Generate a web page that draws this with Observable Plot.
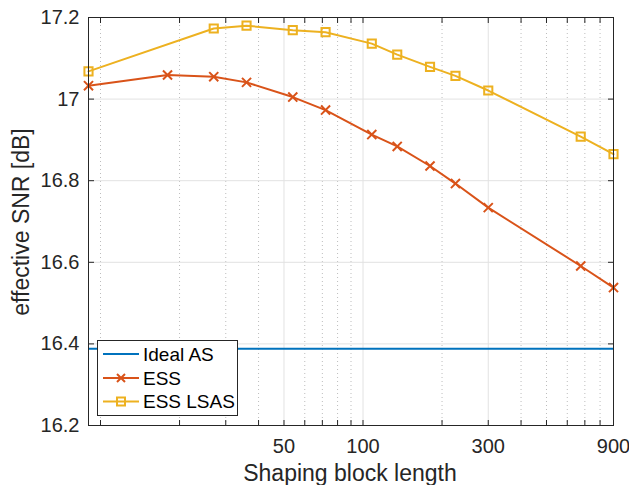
<!DOCTYPE html>
<html>
<head>
<meta charset="utf-8">
<script src="https://cdn.jsdelivr.net/npm/d3@7"></script>
<script src="https://cdn.jsdelivr.net/npm/@observablehq/plot@0.6"></script>
<style>
  html, body { margin: 0; padding: 0; background: #fff; }
  #chart { width: 629px; height: 485px; }
</style>
</head>
<body>
<div id="chart"></div>
<script>
// ---- data ----
const essLen = [9, 18, 27, 36, 54, 72, 108, 135, 180, 225, 300, 675, 900];
const essSNR = [17.033, 17.059, 17.055, 17.041, 17.005, 16.973, 16.913, 16.884, 16.836, 16.793, 16.734, 16.591, 16.538];
const lsasLen = [9, 27, 36, 54, 72, 108, 135, 180, 225, 300, 675, 900];
const lsasSNR = [17.068, 17.173, 17.180, 17.169, 17.164, 17.136, 17.109, 17.079, 17.057, 17.021, 16.908, 16.865];
const idealSNR = [16.388];
const xDomain = [9, 900];
const yDomain = [16.2, 17.2];
const xMajorTicks = [50, 100, 300, 900];
const xMinorTicks = [10, 20, 30, 40, 60, 70, 80, 90, 200, 400, 500, 600, 700, 800];
const yTicks = [16.2, 16.4, 16.6, 16.8, 17, 17.2];
const seriesNames = ["Ideal AS", "ESS", "ESS LSAS"];
const seriesColors = ["#0072BD", "#D95319", "#EDB120"];
const xLabel = "Shaping block length";
const yLabel = "effective SNR [dB]";

const ess = essLen.map((x, i) => ({x, y: essSNR[i]}));
const lsas = lsasLen.map((x, i) => ({x, y: lsasSNR[i]}));
const allXTicks = xMajorTicks.concat(xMinorTicks);

const axisColor = "#262626";
const font = "'Liberation Sans', Arial, Helvetica, sans-serif";

const svg = Plot.plot({
  width: 629,
  height: 485,
  marginLeft: 88,
  marginRight: 16,
  marginTop: 17,
  marginBottom: 60,
  style: {fontFamily: font, color: axisColor, background: "#fff", overflow: "visible"},
  x: {type: "log", domain: xDomain},
  y: {domain: yDomain},
  marks: [
    Plot.gridX(xMinorTicks, {stroke: "#bdbdbd", strokeOpacity: 1, strokeDasharray: "1,3"}),
    Plot.gridX(xMajorTicks, {stroke: "#e2e2e2", strokeOpacity: 1}),
    Plot.gridY(yTicks, {stroke: "#e2e2e2", strokeOpacity: 1}),
    // tick marks (inward) on all four sides
    Plot.axisX(allXTicks, {anchor: "bottom", tickSize: -5, tickFormat: () => "", stroke: axisColor, label: null}),
    Plot.axisX(allXTicks, {anchor: "top", tickSize: -5, tickFormat: () => "", stroke: axisColor, label: null}),
    Plot.axisY(yTicks, {anchor: "left", tickSize: -6, tickFormat: () => "", stroke: axisColor, label: null}),
    Plot.axisY(yTicks, {anchor: "right", tickSize: -6, tickFormat: () => "", stroke: axisColor, label: null}),
    // tick labels
    Plot.text(xMajorTicks, {x: d => d, frameAnchor: "bottom", lineAnchor: "top", dy: 13, fontSize: 20, fill: axisColor, text: d => String(d)}),
    Plot.axisY(yTicks, {anchor: "left", tickSize: 0, tickPadding: 9, fontSize: 20, fill: axisColor, label: null, tickFormat: d3.format("~g")}),
    // data
    Plot.ruleY(idealSNR, {stroke: seriesColors[0], strokeWidth: 2}),
    Plot.line(ess, {x: "x", y: "y", stroke: seriesColors[1], strokeWidth: 2}),
    Plot.dot(ess, {x: "x", y: "y", symbol: "times", r: 4.2, stroke: seriesColors[1], strokeWidth: 2}),
    Plot.line(lsas, {x: "x", y: "y", stroke: seriesColors[2], strokeWidth: 2}),
    Plot.dot(lsas, {x: "x", y: "y", symbol: "square", r: 4.6, stroke: seriesColors[2], fill: "none", strokeWidth: 2}),
    Plot.frame({stroke: axisColor, strokeWidth: 1})
  ]
});

const s = d3.select(svg);
// axis labels
s.append("text")
  .attr("x", 350).attr("y", 481)
  .attr("text-anchor", "middle")
  .attr("font-size", 23).attr("font-family", font).attr("fill", axisColor)
  .text(xLabel);
s.append("text")
  .attr("transform", "translate(29,222) rotate(-90)")
  .attr("text-anchor", "middle")
  .attr("font-size", 23).attr("font-family", font).attr("fill", axisColor)
  .text(yLabel);

// legend
const lg = s.append("g").attr("font-family", font).attr("font-size", 19).attr("text-anchor", "start");
lg.append("rect").attr("x", 97.5).attr("y", 340.5).attr("width", 140).attr("height", 75)
  .attr("fill", "#fff").attr("stroke", axisColor).attr("stroke-width", 1);
const rowY = [354, 378, 401.5];
seriesNames.forEach((name, i) => {
  const y = rowY[i];
  lg.append("line").attr("x1", 103).attr("x2", 139).attr("y1", y).attr("y2", y)
    .attr("stroke", seriesColors[i]).attr("stroke-width", 2);
  if (i === 1) {
    lg.append("path").attr("d", `M${121-4},${y-4}L${121+4},${y+4}M${121-4},${y+4}L${121+4},${y-4}`)
      .attr("stroke", seriesColors[i]).attr("stroke-width", 2).attr("fill", "none");
  }
  if (i === 2) {
    lg.append("rect").attr("x", 121 - 4).attr("y", y - 4).attr("width", 8).attr("height", 8)
      .attr("stroke", seriesColors[i]).attr("stroke-width", 2).attr("fill", "none");
  }
  lg.append("text").attr("x", 143).attr("y", y).attr("dy", "0.35em").attr("text-anchor", "start").attr("fill", "#000").text(name);
});

document.getElementById("chart").appendChild(svg);
</script>
</body>
</html>
